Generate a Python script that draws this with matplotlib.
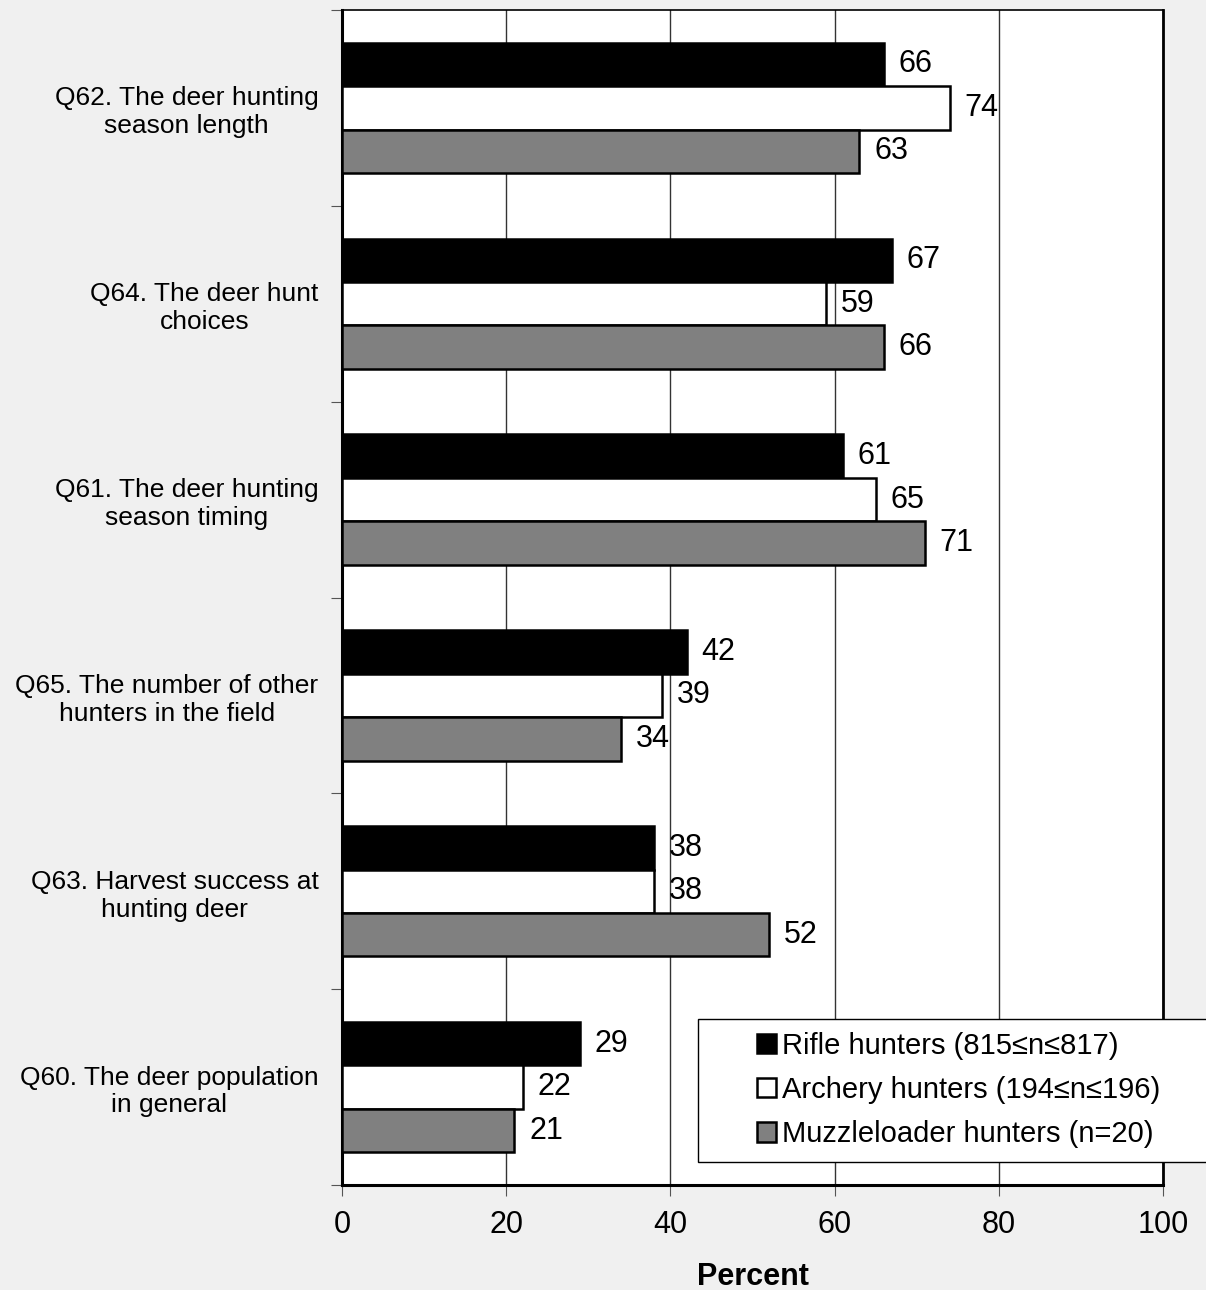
import numpy as np
import matplotlib
matplotlib.use("Agg")
import matplotlib.pyplot as plt
from matplotlib.patches import Rectangle

plt.rcParams['font.family'] = ['Liberation Sans', 'DejaVu Sans']

questions = [
    "Q62. The deer hunting\nseason length",
    "Q64. The deer hunt\nchoices",
    "Q61. The deer hunting\nseason timing",
    "Q65. The number of other\nhunters in the field",
    "Q63. Harvest success at\nhunting deer",
    "Q60. The deer population\nin general",
]
rifle = [66, 67, 61, 42, 38, 29]
archery = [74, 59, 65, 39, 38, 22]
muzzle = [63, 66, 71, 34, 52, 21]

series_names = [
    "Rifle hunters (815≤n≤817)",
    "Archery hunters (194≤n≤196)",
    "Muzzleloader hunters (n=20)",
]
colors = ["#000000", "#ffffff", "#808080"]

W, H = 1206, 1290
fig = plt.figure(figsize=(W / 100, H / 100), dpi=100, facecolor="#f0f0f0")
ax = fig.add_axes([342 / W, 1 - 1185 / H, (1163 - 342) / W, 1175 / H])
ax.set_facecolor("white")

y = np.arange(len(questions))
h = 0.222
for i, (vals, col, name) in enumerate(zip([rifle, archery, muzzle], colors, series_names)):
    pos = y + (i - 1) * h
    ax.barh(pos, vals, height=h, color=col, edgecolor="black", linewidth=1.8,
            label=name, zorder=3)
    for p, v in zip(pos, vals):
        ax.text(v + 1.8, p, str(v), va="center", ha="left", fontsize=22, zorder=4)

ax.set_xlim(0, 100)
ax.set_ylim(len(questions) - 0.5, -0.5)
ax.set_xticks([0, 20, 40, 60, 80, 100])
ax.tick_params(axis="x", labelsize=22, length=8, direction="out", color="#555555", pad=10)

# group separators as major ticks, question labels on minor ticks
ax.set_yticks(np.arange(len(questions) + 1) - 0.5)
ax.set_yticklabels([])
ax.set_yticks(y, minor=True)
ax.set_yticklabels(questions, minor=True, fontsize=19)
ax.tick_params(axis="y", which="minor", length=0, pad=17)
ax.tick_params(axis="y", which="major", length=8, color="#555555")
for t in ax.get_yticklabels(minor=True):
    t.set_multialignment("center")

ax.grid(axis="x", color="#333333", linewidth=1.0, zorder=0)
ax.set_axisbelow(True)

for side in ["left", "bottom"]:
    ax.spines[side].set_linewidth(2.2)
ax.spines["right"].set_linewidth(2.0)
ax.spines["top"].set_linewidth(1.2)

ax.set_xlabel("Percent", fontsize=22, fontweight="bold", labelpad=16)

# legend box runs off the right edge of the figure
box = Rectangle((698 / W, 1 - 1162 / H), 600 / W, 143 / H, transform=fig.transFigure,
                facecolor="white", edgecolor="black", linewidth=1.0, zorder=5,
                clip_on=False)
fig.add_artist(box)
handles, labels = ax.get_legend_handles_labels()
leg = fig.legend(handles, labels, loc="center left", bbox_to_anchor=(757 / W, 1 - 1090 / H),
                 fontsize=21, frameon=False,
                 handlelength=0.65, handleheight=0.65, handletextpad=0.2,
                 labelspacing=0.55, borderpad=0, borderaxespad=0)
leg.set_zorder(6)

fig.savefig("out.png", dpi=100, facecolor=fig.get_facecolor())
